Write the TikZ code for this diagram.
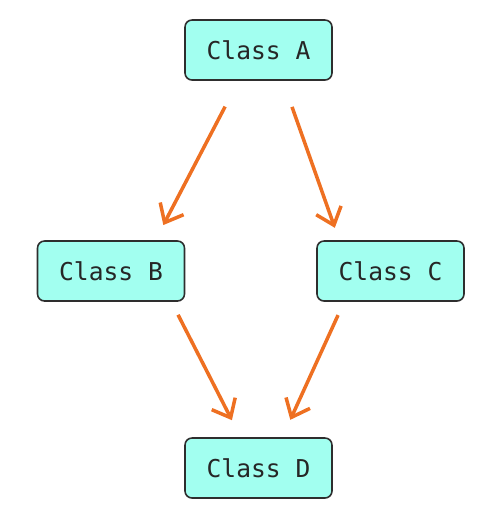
\documentclass[tikz,border=0pt]{standalone}
\usepackage{fontspec}
\setmonofont{DejaVu Sans Mono}
\usepackage{xcolor}
\definecolor{boxfill}{HTML}{A2FFF0}
\definecolor{boxline}{HTML}{2E2E2E}
\definecolor{arroworange}{HTML}{EE7022}
\usetikzlibrary{arrows.meta}

\begin{document}
\begin{tikzpicture}[every node/.style={inner sep=1,outer sep=0},
    classbox/.style={draw=boxline,fill=boxfill,rounded corners=4pt,line width=0.9pt,
      minimum width=2.94cm,minimum height=1.2cm,
      font=\fontsize{14}{17}\selectfont\ttfamily,text=black!85},
    inherit/.style={draw=arroworange,line width=2pt,
      -{Straight Barb[length=9pt,width=15pt,line width=2pt]}}]
    \useasboundingbox (0,0) rectangle (9.78,-10.44);

    \node(a)[classbox] at (5.17,-1.0) {Class A};
    \node(b)[classbox] at (2.22,-5.42) {Class B};
    \node(c)[classbox] at (7.81,-5.42) {Class C};
    \node(d)[classbox] at (5.17,-9.36) {Class D};

    \draw [inherit,shorten <=0.6cm,shorten >=0.36cm] ([xshift=-0.39cm]a.south) -- ([xshift=0.88cm]b.north);
    \draw [inherit,shorten <=0.57cm,shorten >=0.28cm] ([xshift=0.48cm]a.south) -- ([xshift=-1.02cm]c.north);
    \draw [inherit,shorten <=0.31cm,shorten >=0.4cm] ([xshift=1.2cm]b.south) -- ([xshift=-0.35cm]d.north);
    \draw [inherit,shorten <=0.31cm,shorten >=0.4cm] ([xshift=-0.92cm]c.south) -- ([xshift=0.47cm]d.north);
\end{tikzpicture}
\end{document}
